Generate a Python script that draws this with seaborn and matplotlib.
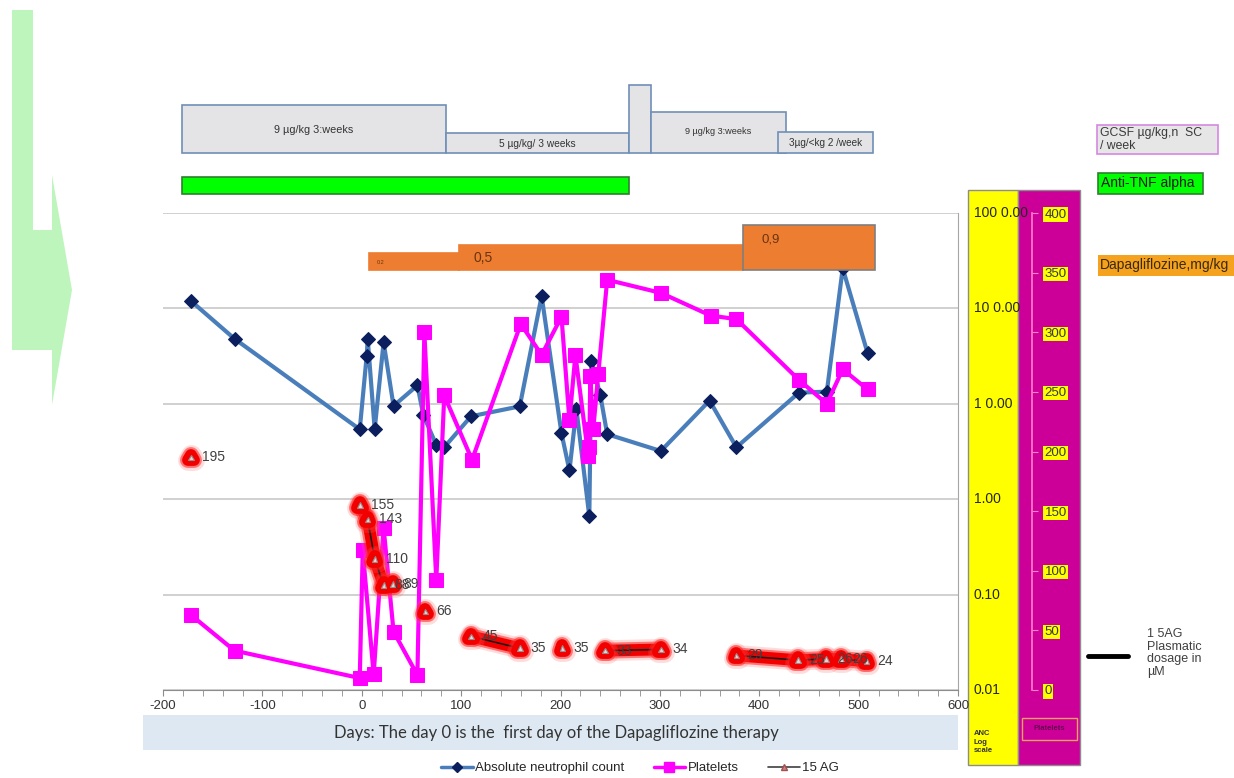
import numpy as np
import pandas as pd
import matplotlib
matplotlib.use("Agg")
import matplotlib.pyplot as plt
import matplotlib.patheffects as pe
from matplotlib.patches import Rectangle, Polygon
from matplotlib.lines import Line2D
from matplotlib.ticker import MultipleLocator, NullLocator, FixedLocator
from matplotlib.transforms import blended_transform_factory
import seaborn as sns

# ---------------- data ----------------
# Absolute neutrophil count (log scale)
anc_days = [-172, -128, -2, 5, 6, 13, 22, 32, 56, 62, 75, 83, 110, 159, 181,
            201, 209, 216, 229, 231, 240, 247, 301, 350, 377, 440, 468, 484, 509]
anc_vals = [120, 48, 5.4, 32, 48, 5.4, 44, 9.5, 15.6, 7.6, 3.7, 3.5, 7.4, 9.4, 135,
            4.9, 2.0, 8.8, 0.66, 28, 12.4, 4.8, 3.2, 10.8, 3.5, 13.1, 13.4, 263, 34]

# Platelets
plt_days = [-172, -128, -2, 1, 12, 22, 32, 56, 63, 75, 83, 111, 160, 181, 201, 209,
            215, 228, 229, 230, 233, 238, 247, 301, 351, 377, 440, 468, 484, 509]
plt_vals = [63, 33, 10, 117, 13, 136, 49, 12.5, 300, 92, 247, 193, 307, 281, 313, 226,
            281, 196, 204, 263, 219, 265, 344, 333, 314, 311, 260, 240, 269, 252]

# 1,5-anhydroglucitol (µM); samples taken in separate runs
ag_days = [-172, -2, 6, 13, 22, 31, 64, 110, 159, 202, 245, 301, 377, 439, 467, 482, 508]
ag_vals = [195, 155, 143, 110, 88, 89, 66, 45, 35, 35, 33, 34, 29, 25, 26, 26, 24]
ag_run = [0, 1, 1, 1, 1, 1, 2, 3, 3, 4, 5, 5, 6, 6, 6, 6, 6]

# Treatments (day ranges)
gcsf_start = [-181, 84.5, 268.5, 291.5, 418.5]
gcsf_end = [84.5, 268.5, 291.5, 426.5, 514]
gcsf_labels = ["9 µg/kg 3:weeks", "5 µg/kg/ 3 weeks", "", "9 µg/kg 3:weeks", "3µg/<kg 2 /week"]

tnf_start, tnf_end = -181, 269

dapa_start = [97.5, 7.5, 384]
dapa_end = [384, 97.5, 516]
dapa_labels = ["0,5", "0.2", "0,9"]

anc_ticks = [0.01, 0.1, 1, 10, 100, 1000]
anc_ticklabels = ["0.01", "0.10", "1.00", "1 0.00", "10 0.00", "100 0.00"]
plt_ticks = [0, 50, 100, 150, 200, 250, 300, 350, 400]
x_ticks = [-200, -100, 0, 100, 200, 300, 400, 500, 600]

# ---------------- figure ----------------
sns.set_style("white")
plt.rcParams["font.family"] = ["Liberation Sans", "DejaVu Sans"]
plt.rcParams["axes.unicode_minus"] = False

W, H = 1234, 778
fig = plt.figure(figsize=(W / 100, H / 100), dpi=100)


def fx(px):
    return px / W


def fy(py):
    return 1 - py / H


ax = fig.add_axes([fx(163), fy(690), fx(958) - fx(163), fy(213) - fy(690)])
ax.set_yscale("log")
ax2 = ax.twinx()

anc_df = pd.DataFrame({"day": anc_days, "anc": anc_vals})
plt_df = pd.DataFrame({"day": plt_days, "platelets": plt_vals})
ag_df = pd.DataFrame({"day": ag_days, "ag": ag_vals, "run": ag_run})

sns.lineplot(data=anc_df, x="day", y="anc", ax=ax, sort=False, estimator=None,
             color="#4a7ebb", lw=3, marker="D", markersize=7,
             markerfacecolor="#0b1f5e", markeredgecolor="#0b1f5e", legend=False)

sns.lineplot(data=plt_df, x="day", y="platelets", ax=ax2, sort=False, estimator=None,
             color="#ff00ff", lw=3, marker="s", markersize=10,
             markerfacecolor="#ff00ff", markeredgecolor="#ff00ff", legend=False)

glow = [pe.Stroke(linewidth=15, foreground="#ff6060", alpha=0.22, joinstyle="round", capstyle="round"),
        pe.Stroke(linewidth=11.5, foreground="#ff2020", alpha=0.55, joinstyle="round", capstyle="round"),
        pe.Stroke(linewidth=8.5, foreground="#f20000", alpha=1.0, joinstyle="round", capstyle="round"),
        pe.Normal()]
sns.lineplot(data=ag_df, x="day", y="ag", units="run", ax=ax2, sort=False, estimator=None,
             color="#1a1a1a", lw=1.2, marker="^", markersize=4,
             markerfacecolor="#f4d0d0", markeredgecolor="#909090", markeredgewidth=0.8,
             path_effects=glow, legend=False)

for d, v in zip(ag_days, ag_vals):
    ax2.annotate(str(v), (d, v), xytext=(8, 0), textcoords="offset points",
                 va="center", ha="left", fontsize=10, color="#404040", zorder=10)

# ---------------- axes styling ----------------
ax.set_xlim(-200, 600)
ax.set_ylim(0.01, 1000)
ax2.set_ylim(0, 400)
ax.set_xlabel("")
ax.set_ylabel("")
ax2.set_ylabel("")

ax.set_xticks(x_ticks)
ax.xaxis.set_minor_locator(MultipleLocator(20))
ax.tick_params(axis="x", which="both", direction="out", length=4, color="#8c8c8c",
               labelsize=9.5, labelcolor="#333333", bottom=True, pad=3)
ax.yaxis.set_major_locator(FixedLocator(anc_ticks))
ax.yaxis.set_minor_locator(NullLocator())
ax.tick_params(axis="y", which="both", left=False, right=False, labelleft=False, labelright=False)
ax.grid(axis="y", color="#c8c8c8", lw=1.2)
ax.grid(axis="x", visible=False)
ax.set_axisbelow(True)
for s in ["left", "top"]:
    ax.spines[s].set_visible(False)
ax.spines["bottom"].set_color("#8c8c8c")
ax.spines["right"].set_color("#a6a6a6")

for s in ["left", "top", "bottom"]:
    ax2.spines[s].set_visible(False)
ax2.spines["right"].set_position(("axes", (1032 - 163) / (958 - 163)))
ax2.spines["right"].set_color("#ff80c8")
ax2.spines["right"].set_linewidth(1.2)
ax2.set_yticks(plt_ticks)
ax2.tick_params(axis="y", direction="out", length=4, color="#ff80c8", labelsize=9.5,
                labelcolor="#3a3a3a", pad=5)

# ---------------- side panels ----------------
fig.add_artist(Rectangle((fx(968), fy(765)), fx(1018) - fx(968), fy(190) - fy(765),
                         transform=fig.transFigure, facecolor="#ffff00", edgecolor="#8c8c8c",
                         lw=1, zorder=-2))
fig.add_artist(Rectangle((fx(1018), fy(765)), fx(1080) - fx(1018), fy(190) - fy(765),
                         transform=fig.transFigure, facecolor="#cc0099", edgecolor="#8c8c8c",
                         lw=1, zorder=-2))

for lbl in ax2.get_yticklabels():
    lbl.set_bbox(dict(facecolor="#ffff00", edgecolor="none", pad=0.8))

anc_tr = blended_transform_factory(fig.transFigure, ax.transData)
for t, lab in zip(anc_ticks, anc_ticklabels):
    fig.text(fx(974), t, lab, transform=anc_tr, ha="left", va="center",
             fontsize=10, color="#262626", zorder=5)

fig.text(fx(974), fy(742), "ANC\nLog\nscale", ha="left", va="center", fontsize=5.5,
         color="#333333", linespacing=1.3, fontweight="bold")
fig.add_artist(Rectangle((fx(1022), fy(740)), fx(1077) - fx(1022), fy(718) - fy(740),
                         transform=fig.transFigure, facecolor="none", edgecolor="#f0a060", lw=1))
fig.text(fx(1049), fy(729), "Platelets", ha="center", va="center", fontsize=5.5,
         color="#6a0050", fontweight="bold")

# ---------------- treatment bars ----------------
bt = blended_transform_factory(ax.transData, fig.transFigure)
gcsf_tops = [105, 133, 85, 112, 132]
gcsf_text_y = [130, 144, 0, 132, 143]
gcsf_fs = [7.8, 7.3, 7, 6.6, 7.2]
for s, e, lab, top, ty, fs in zip(gcsf_start, gcsf_end, gcsf_labels, gcsf_tops, gcsf_text_y, gcsf_fs):
    fig.add_artist(Rectangle((s, fy(153)), e - s, fy(top) - fy(153), transform=bt,
                             facecolor="#e4e4e6", edgecolor="#6f8fb8", lw=1.2))
    if lab:
        fig.text((s + e) / 2, fy(ty), lab, transform=bt, ha="center", va="center",
                 fontsize=fs, color="#333333")

fig.add_artist(Rectangle((tnf_start, fy(194)), tnf_end - tnf_start, fy(177) - fy(194), transform=bt,
                         facecolor="#00ff00", edgecolor="#2f7f2f", lw=1.2))

dapa_tops = [245, 253, 225]
dapa_edges = ["#ed7d31", "#ed7d31", "#7f7f7f"]
dapa_text = [(15, 258, 10), (8, 263, 4), (18, 240, 9.5)]
for s, e, lab, top, ec, (dx, ty, fs) in zip(dapa_start, dapa_end, dapa_labels, dapa_tops, dapa_edges, dapa_text):
    fig.add_artist(Rectangle((s, fy(270)), e - s, fy(top) - fy(270), transform=bt,
                             facecolor="#ed7d31", edgecolor=ec, lw=1.2, zorder=3))
    fig.text(s + dx, fy(ty), lab, transform=bt, ha="left", va="center",
             fontsize=fs, color="#6b3410", zorder=4)

# ---------------- right-hand key ----------------
fig.add_artist(Rectangle((fx(1097), fy(154)), fx(1218) - fx(1097), fy(125) - fy(154),
                         transform=fig.transFigure, facecolor="#e6e6e6", edgecolor="#d488e0", lw=1.2))
fig.text(fx(1100), fy(139.5), "GCSF µg/kg,n  SC\n/ week", ha="left", va="center",
         fontsize=8.8, color="#3a3a3a", linespacing=1.15)
fig.add_artist(Rectangle((fx(1098), fy(194)), fx(1203) - fx(1098), fy(173) - fy(194),
                         transform=fig.transFigure, facecolor="#00ff00", edgecolor="#2f7f2f", lw=1.2))
fig.text(fx(1101), fy(183.5), "Anti-TNF alpha", ha="left", va="center", fontsize=10, color="#1a1a1a")
fig.add_artist(Rectangle((fx(1098), fy(276)), fx(1240) - fx(1098), fy(255) - fy(276),
                         transform=fig.transFigure, facecolor="#f5a21e", edgecolor="none"))
fig.text(fx(1100), fy(265.5), "Dapagliflozine,mg/kg", ha="left", va="center", fontsize=10,
         color="#3a2a10")

fig.add_artist(Line2D([fx(1088), fx(1128)], [fy(656), fy(656)], transform=fig.transFigure,
                      color="black", lw=3.5))
fig.text(fx(1147), fy(653), "1 5AG\nPlasmatic\ndosage in\nµM", ha="left", va="center",
         fontsize=9, color="#404040", linespacing=1.1)

# ---------------- x label band ----------------
fig.add_artist(Rectangle((fx(143), fy(750)), fx(958) - fx(143), fy(715) - fy(750),
                         transform=fig.transFigure, facecolor="#dde8f3", edgecolor="none", zorder=-2))
fig.text(fx(556), fy(733), "Days: The day 0 is the  first day of the Dapagliflozine therapy",
         ha="center", va="center", fontsize=12, color="#333333", family=["Lato", "DejaVu Sans"])

# ---------------- left arrow ----------------
arrow_px = [(12, 10), (33, 10), (33, 230), (52, 230), (52, 175), (72, 290),
            (52, 405), (52, 350), (12, 350)]
fig.add_artist(Polygon([(fx(x), fy(y)) for x, y in arrow_px], closed=True,
                       transform=fig.transFigure, facecolor="#bdf5bd", edgecolor="none", zorder=-3))

# ---------------- legend ----------------
handles = [
    Line2D([], [], color="#4a7ebb", lw=2.5, marker="D", markersize=5,
           markerfacecolor="#0b1f5e", markeredgecolor="#0b1f5e"),
    Line2D([], [], color="#ff00ff", lw=2.5, marker="s", markersize=7,
           markerfacecolor="#ff00ff", markeredgecolor="#ff00ff"),
    Line2D([], [], color="#404040", lw=1.2, marker="^", markersize=4,
           markerfacecolor="#d08080", markeredgecolor="#a05050"),
]
fig.legend(handles, ["Absolute neutrophil count", "Platelets", "15 AG"], loc="center",
           bbox_to_anchor=(fx(640), fy(768)), ncol=3, frameon=False, fontsize=9.5,
           handlelength=2.4, columnspacing=2.2, handletextpad=0.2)

fig.savefig("out.png", dpi=100)
